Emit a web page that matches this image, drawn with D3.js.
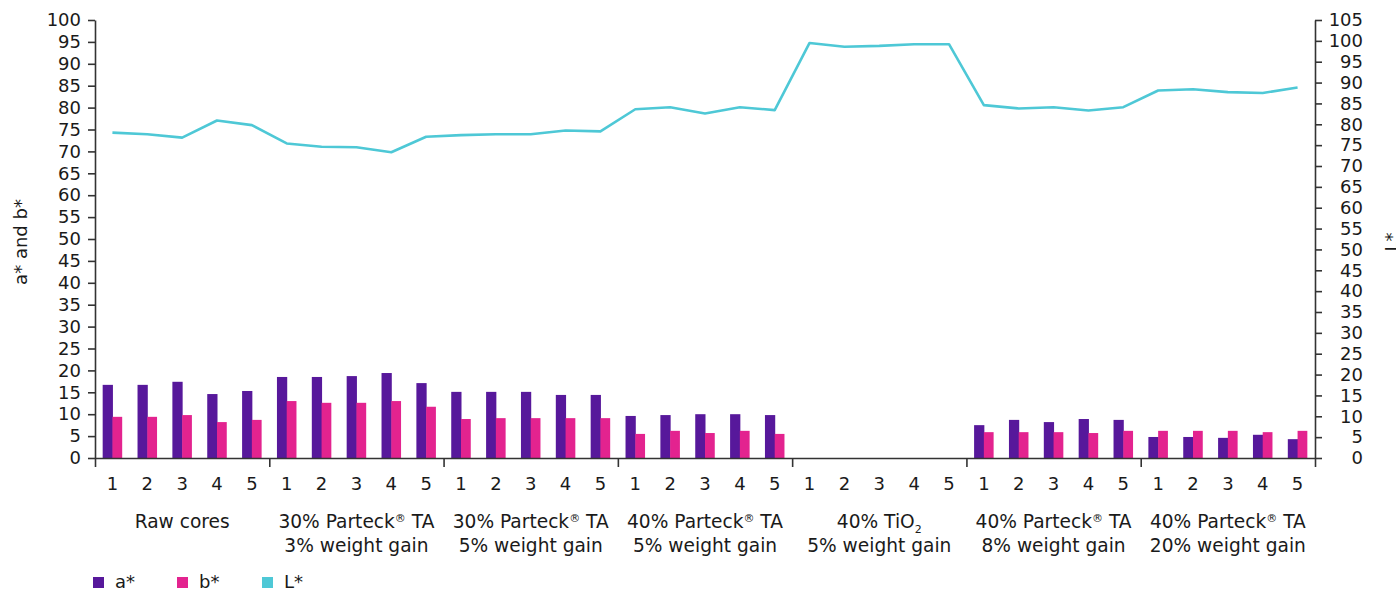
<!DOCTYPE html>
<html><head><meta charset="utf-8">
<script src="https://cdn.jsdelivr.net/npm/d3@7"></script>
<style>
body{margin:0;background:#fff}
svg{display:block}
text{font-family:"DejaVu Sans",Verdana,sans-serif;fill:#1a1a1a}
</style>
</head><body><svg id="c" width="1396" height="590"></svg>
<script>
// ---- data ----
const groupLine1 = ["Raw cores", "30% Parteck® TA", "30% Parteck® TA", "40% Parteck® TA", "40% TiO2", "40% Parteck® TA", "40% Parteck® TA"];
const groupLine2 = ["", "3% weight gain", "5% weight gain", "5% weight gain", "5% weight gain", "8% weight gain", "20% weight gain"];
const samples = ["1", "2", "3", "4", "5"];
const aStar = [16.7, 16.7, 17.4, 14.6, 15.3,
               18.5, 18.5, 18.7, 19.4, 17.1,
               15.1, 15.1, 15.1, 14.4, 14.4,
               9.6, 9.8, 10.0, 10.0, 9.8,
               0, 0, 0, 0, 0,
               7.5, 8.7, 8.2, 8.9, 8.7,
               4.8, 4.8, 4.6, 5.3, 4.3];
const bStar = [9.4, 9.4, 9.8, 8.2, 8.7,
               13.0, 12.6, 12.6, 13.0, 11.7,
               8.9, 9.1, 9.1, 9.1, 9.1,
               5.5, 6.2, 5.7, 6.2, 5.5,
               0, 0, 0, 0, 0,
               5.9, 5.9, 5.9, 5.7, 6.2,
               6.2, 6.2, 6.2, 5.9, 6.2];
const lStar = [78.0, 77.6, 76.8, 80.9, 79.8,
               75.4, 74.6, 74.5, 73.3, 77.0,
               77.4, 77.6, 77.6, 78.5, 78.3,
               83.6, 84.1, 82.6, 84.1, 83.4,
               99.5, 98.6, 98.8, 99.2, 99.2,
               84.6, 83.8, 84.1, 83.3, 84.1,
               88.1, 88.4, 87.7, 87.5, 88.8];
const leftTicks = [0, 5, 10, 15, 20, 25, 30, 35, 40, 45, 50, 55, 60, 65, 70, 75, 80, 85, 90, 95, 100];
const rightTicks = [0, 5, 10, 15, 20, 25, 30, 35, 40, 45, 50, 55, 60, 65, 70, 75, 80, 85, 90, 95, 100, 105];
const seriesNames = ["a*", "b*", "L*"];
const seriesColors = ["#57189b", "#e3238f", "#4ec8d6"];

// ---- layout ----
const L = 95, R = 1315, T = 20, B = 458;
const svg = d3.select("#c");
const categories = groupLine1.flatMap((g, gi) => samples.map(s => gi + "-" + s));

const x = d3.scaleBand().domain(categories).range([L, R]).padding(0);
const bw = x.bandwidth();
const xs = d3.scaleBand().domain(["a", "b"]).range([bw * 0.22, bw * 0.78]);
const xg = d3.scaleLinear().domain([0, groupLine1.length]).range([L, R]);
const yL = d3.scaleLinear().domain([0, 100]).range([B, T]);
const yR = d3.scaleLinear().domain([0, 105]).range([B, T]);

// bars
const barData = categories.map((c, i) => ({c, a: aStar[i], b: bStar[i]}));
const bars = svg.append("g");
bars.selectAll("rect.a").data(barData).join("rect").attr("class", "a")
  .attr("x", d => x(d.c) + xs("a")).attr("width", xs.bandwidth() + 0.5)
  .attr("y", d => yL(d.a)).attr("height", d => yL(0) - yL(d.a))
  .attr("fill", seriesColors[0]);
bars.selectAll("rect.b").data(barData).join("rect").attr("class", "b")
  .attr("x", d => x(d.c) + xs("b")).attr("width", xs.bandwidth())
  .attr("y", d => yL(d.b)).attr("height", d => yL(0) - yL(d.b))
  .attr("fill", seriesColors[1]);

// line
const line = d3.line().x((d, i) => x(categories[i]) + bw / 2).y(d => yR(d));
svg.append("path").datum(lStar).attr("d", line)
  .attr("fill", "none").attr("stroke", seriesColors[2]).attr("stroke-width", 2.6)
  .attr("stroke-linejoin", "round");

const FS = 18;
function styleAxis(g) {
  g.selectAll("path,line").attr("stroke", "#333").attr("stroke-width", 1.6);
  g.selectAll("text").style("font-size", FS + "px").attr("fill", "#1a1a1a");
}

// left axis
const gl = svg.append("g").attr("transform", `translate(${L},0)`)
  .call(d3.axisLeft(yL).tickValues(leftTicks).tickSize(7).tickSizeOuter(0).tickPadding(7));
styleAxis(gl);

// right axis (labels right-aligned)
const gr = svg.append("g").attr("transform", `translate(${R},0)`)
  .call(d3.axisRight(yR).tickValues(rightTicks).tickSize(7).tickSizeOuter(0));
styleAxis(gr);
gr.selectAll(".tick text").attr("text-anchor", "end").attr("x", 48);

// category sample labels
const gx = svg.append("g").attr("transform", `translate(0,${B})`)
  .call(d3.axisBottom(x).tickSize(0).tickPadding(19).tickFormat(d => d.split("-")[1]));
gx.select(".domain").remove();
styleAxis(gx);

// group separator axis
const gxg = svg.append("g").attr("transform", `translate(0,${B})`)
  .call(d3.axisBottom(xg).tickValues(d3.range(groupLine1.length + 1)).tickSize(9).tickSizeOuter(0).tickFormat(""));
styleAxis(gxg);

// group labels
const GFS = 18.6;
groupLine1.forEach((g, i) => {
  const cx = xg(i + 0.5);
  const t = svg.append("text").attr("x", cx).attr("y", 528).attr("text-anchor", "middle").style("font-size", GFS + "px");
  if (g.includes("®")) {
    const parts = g.split("®");
    t.append("tspan").text(parts[0]);
    t.append("tspan").text("®").style("font-size", "11px").attr("dy", -6);
    t.append("tspan").text(parts[1]).attr("dy", 6);
  } else if (/TiO2$/.test(g)) {
    t.append("tspan").text(g.slice(0, -1));
    t.append("tspan").text("2").style("font-size", "11px").attr("dy", 5);
  } else {
    t.text(g);
  }
  if (groupLine2[i]) {
    svg.append("text").attr("x", cx).attr("y", 552).attr("text-anchor", "middle")
      .style("font-size", GFS + "px").text(groupLine2[i]);
  }
});

// axis titles
svg.append("text").attr("transform", "translate(27,242) rotate(-90)").attr("text-anchor", "middle")
  .style("font-size", FS + "px").text("a* and b*");
svg.append("text").attr("transform", "translate(1398,242) rotate(-90)").attr("text-anchor", "middle")
  .style("font-size", FS + "px").text("L*");

// legend
const legX = [93, 177, 262];
const leg = svg.append("g");
seriesNames.forEach((n, i) => {
  leg.append("rect").attr("x", legX[i]).attr("y", 577).attr("width", 11).attr("height", 11).attr("fill", seriesColors[i]);
  leg.append("text").attr("x", legX[i] + 22).attr("y", 588).style("font-size", FS + "px").text(n);
});
</script>
</body></html>
